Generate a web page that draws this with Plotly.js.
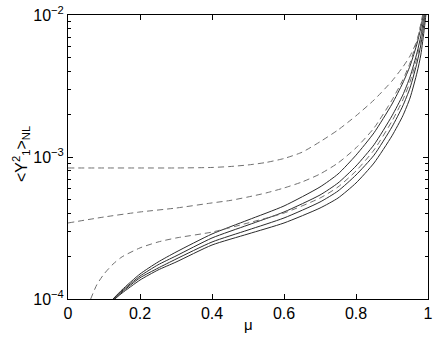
<!DOCTYPE html>
<html>
<head>
<meta charset="utf-8">
<script src="https://cdn.plot.ly/plotly-3.0.1.min.js"></script>
<style>
  html, body { margin: 0; padding: 0; background: #fff; }
  #chart { width: 436px; height: 338px; }
</style>
</head>
<body>
<div id="chart"></div>
<script>
// mu grids
let muWide = [0, 0.1, 0.2, 0.3, 0.4, 0.45, 0.5, 0.55, 0.6, 0.65, 0.7, 0.75, 0.8, 0.85, 0.9, 0.93, 0.95, 0.97, 0.98, 0.99]
let muSolid = [0.125, 0.15, 0.2, 0.25, 0.3, 0.4, 0.5, 0.6, 0.7, 0.75, 0.8, 0.85, 0.9, 0.93, 0.95, 0.97, 0.98, 0.99, 0.995]
let muDashC = [0.063, 0.08, 0.1, 0.125, 0.15, 0.2, 0.25, 0.3, 0.4, 0.5, 0.6, 0.7, 0.75, 0.8, 0.85, 0.9, 0.93, 0.95, 0.97, 0.98, 0.99, 0.995]

// dashed curves
let dashA = [8.37e-4, 8.37e-4, 8.37e-4, 8.37e-4, 8.44e-4, 8.57e-4, 8.79e-4, 9.15e-4, 9.76e-4, 1.08e-3,
             1.28e-3, 1.55e-3, 1.95e-3, 2.52e-3, 3.43e-3, 4.30e-3, 5.14e-3, 6.67e-3, 8.64e-3, 1.16e-2]
let dashB = [3.43e-4, 3.78e-4, 4.10e-4, 4.37e-4, 4.75e-4, 4.94e-4, 5.23e-4, 5.58e-4, 6.05e-4, 6.67e-4,
             7.59e-4, 9.07e-4, 1.16e-3, 1.60e-3, 2.52e-3, 3.49e-3, 4.59e-3, 6.67e-3, 8.51e-3, 1.12e-2]
let dashC = [1.00e-4, 1.26e-4, 1.50e-4, 1.76e-4, 1.98e-4, 2.29e-4, 2.52e-4, 2.69e-4, 2.96e-4, 3.43e-4, 4.03e-4,
             5.14e-4, 6.15e-4, 7.97e-4, 1.12e-3, 1.79e-3, 2.52e-3, 3.38e-3, 5.06e-3, 6.67e-3, 9.68e-3, 1.18e-2]

// solid curves
let solid1 = [1.00e-4, 1.16e-4, 1.50e-4, 1.82e-4, 2.14e-4, 2.87e-4, 3.60e-4, 4.52e-4, 6.15e-4, 7.59e-4,
              1.03e-3, 1.48e-3, 2.36e-3, 3.32e-3, 4.37e-3, 6.35e-3, 8.10e-3, 1.12e-2, 1.30e-2]
let solid2 = [1.00e-4, 1.14e-4, 1.45e-4, 1.74e-4, 2.01e-4, 2.69e-4, 3.32e-4, 4.10e-4, 5.40e-4, 6.56e-4,
              8.64e-4, 1.22e-3, 1.95e-3, 2.73e-3, 3.66e-3, 5.49e-3, 7.11e-3, 1.02e-2, 1.24e-2]
let solid3 = [1.00e-4, 1.12e-4, 1.41e-4, 1.65e-4, 1.91e-4, 2.52e-4, 3.06e-4, 3.72e-4, 4.82e-4, 5.76e-4,
              7.47e-4, 1.03e-3, 1.63e-3, 2.29e-3, 3.06e-3, 4.67e-3, 6.15e-3, 9.22e-3, 1.18e-2]
let solid4 = [1.00e-4, 1.10e-4, 1.36e-4, 1.60e-4, 1.82e-4, 2.40e-4, 2.87e-4, 3.43e-4, 4.37e-4, 5.14e-4,
              6.56e-4, 9.07e-4, 1.41e-3, 1.95e-3, 2.60e-3, 3.97e-3, 5.23e-3, 8.10e-3, 1.05e-2]
let solidStart = [0.125, 0.125, 0.128, 0.13]

let solidColor = "#2b2b2b"
let dashColor = "#707070"

function curve(x, y, color, dash) {
    return {
        x: x, y: y, type: "scatter", mode: "lines",
        line: { color: color, width: 1, dash: dash, shape: "spline", smoothing: 0.6 },
        hoverinfo: "skip"
    }
}

let solids = [solid1, solid2, solid3, solid4]
let data = []
for (let i = 0; i < solids.length; i++) {
    let xs = muSolid.slice()
    xs[0] = solidStart[i]
    data.push(curve(xs, solids[i], solidColor, "solid"))
}
data.push(curve(muWide, dashA, dashColor, "6px,4px"))
data.push(curve(muWide, dashB, dashColor, "6px,4px"))
data.push(curve(muDashC, dashC, dashColor, "6px,4px"))

let fontFamily = "Liberation Sans, Arial, sans-serif"
let tickFont = { family: fontFamily, size: 16, color: "#000" }

let minorVals = []
for (let d = -4; d < -2; d++) {
    for (let k = 2; k <= 9; k++) minorVals.push(k * Math.pow(10, d))
}

let layout = {
    width: 436,
    height: 338,
    showlegend: false,
    paper_bgcolor: "#fff",
    plot_bgcolor: "#fff",
    margin: { l: 68, r: 8, t: 15, b: 39, pad: 0 },
    xaxis: {
        range: [0, 1],
        tickvals: [0, 0.2, 0.4, 0.6, 0.8, 1],
        ticktext: ["0", "0.2", "0.4", "0.6", "0.8", "1"],
        ticks: "inside", ticklen: 5, tickcolor: "#000",
        showline: true, linecolor: "#000", linewidth: 1, mirror: "ticks",
        showgrid: false, zeroline: false,
        tickfont: tickFont
    },
    yaxis: {
        type: "log",
        range: [-4, -2],
        tickvals: [1e-4, 1e-3, 1e-2],
        ticktext: ["10<sup>−4</sup>", "10<sup>−3</sup>", "10<sup>−2</sup>"],
        ticks: "inside", ticklen: 5, tickcolor: "#000",
        minor: { tickvals: minorVals, ticks: "inside", ticklen: 3, tickcolor: "#000", showgrid: false },
        showline: true, linecolor: "#000", linewidth: 1, mirror: "ticks",
        showgrid: false, zeroline: false,
        tickfont: tickFont
    },
    // axis titles placed by hand so they sit where the original has them
    annotations: [
        {
            text: "μ", xref: "paper", yref: "paper", x: 0.5, y: 0,
            xanchor: "center", yanchor: "middle", yshift: -25, showarrow: false,
            font: { family: fontFamily, size: 15, color: "#000" }
        },
        {
            text: "<Y<sup>2</sup><sub>1</sub>><sub>NL</sub>", xref: "paper", yref: "paper", x: 0, y: 0.5,
            xanchor: "center", yanchor: "middle", xshift: -47, yshift: 3, textangle: -90, showarrow: false,
            font: { family: fontFamily, size: 16, color: "#000" }
        }
    ]
}

Plotly.newPlot("chart", data, layout, { displayModeBar: false, staticPlot: true })
</script>
</body>
</html>
